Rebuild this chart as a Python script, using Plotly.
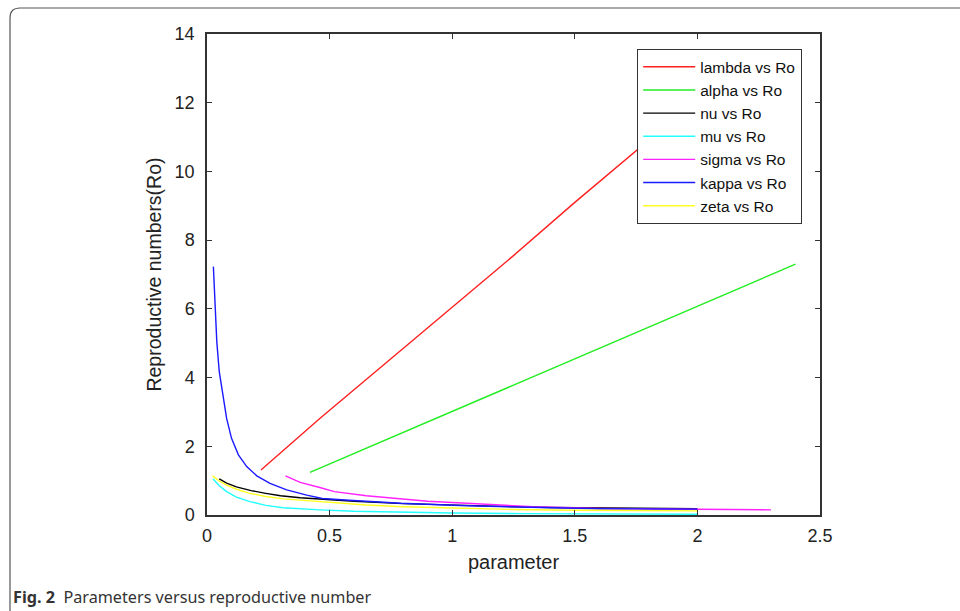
import plotly.graph_objects as go

# ---- data ----
lambda_x = [0.22, 0.46, 0.75, 1.0, 1.25, 1.5, 1.75, 2.0]
lambda_y = [1.31, 2.81, 4.55, 6.05, 7.55, 9.1, 10.6, 12.1]

alpha_x = [0.42, 0.75, 1.0, 1.2, 1.5, 2.0, 2.4]
alpha_y = [1.24, 2.25, 3.02, 3.64, 4.55, 6.08, 7.3]

nu_x = [0.05, 0.08, 0.12, 0.18, 0.24, 0.3, 0.38, 0.46, 0.6, 0.8, 1.0, 1.2, 1.4, 1.6, 1.8, 2.0]
nu_y = [1.05, 0.93, 0.82, 0.71, 0.63, 0.56, 0.5, 0.46, 0.40, 0.33, 0.28, 0.25, 0.22, 0.2, 0.19, 0.18]

mu_x = [0.025, 0.05, 0.08, 0.12, 0.175, 0.24, 0.31, 0.38, 0.46, 0.6, 0.8, 1.0, 1.3, 1.6, 2.0]
mu_y = [1.05, 0.85, 0.68, 0.52, 0.39, 0.28, 0.21, 0.18, 0.15, 0.11, 0.08, 0.06, 0.04, 0.03, 0.02]

sigma_x = [0.32, 0.38, 0.46, 0.52, 0.65, 0.79, 0.9, 1.06, 1.2, 1.33, 1.6, 2.0, 2.3]
sigma_y = [1.14, 0.95, 0.80, 0.68, 0.56, 0.46, 0.40, 0.34, 0.28, 0.24, 0.19, 0.17, 0.15]

kappa_x = [0.026, 0.030, 0.034, 0.040, 0.050, 0.064, 0.080, 0.100, 0.128, 0.162, 0.203, 0.257,
           0.325, 0.407, 0.47, 0.58, 0.79, 1.06, 1.4, 1.6, 2.0]
kappa_y = [7.23, 6.7, 5.9, 5.04, 4.17, 3.49, 2.81, 2.23, 1.75, 1.41, 1.14, 0.92,
           0.73, 0.58, 0.48, 0.43, 0.34, 0.27, 0.21, 0.18, 0.17]

zeta_x = [0.023, 0.05, 0.08, 0.12, 0.175, 0.24, 0.311, 0.38, 0.46, 0.65, 0.8, 1.0, 1.25, 1.5, 1.75, 2.0]
zeta_y = [1.14, 0.99, 0.87, 0.75, 0.63, 0.54, 0.47, 0.43, 0.39, 0.29, 0.24, 0.2, 0.16, 0.14, 0.13, 0.12]

series = [
    ("lambda vs Ro", lambda_x, lambda_y, "#ff2020"),
    ("alpha vs Ro", alpha_x, alpha_y, "#22ee22"),
    ("nu vs Ro", nu_x, nu_y, "#000000"),
    ("mu vs Ro", mu_x, mu_y, "#22ffff"),
    ("sigma vs Ro", sigma_x, sigma_y, "#ff22ff"),
    ("kappa vs Ro", kappa_x, kappa_y, "#1a1aff"),
    ("zeta vs Ro", zeta_x, zeta_y, "#ffff22"),
]

x_ticks = [0, 0.5, 1, 1.5, 2, 2.5]
x_tick_text = ["0", "0.5", "1", "1.5", "2", "2.5"]
y_ticks = [0, 2, 4, 6, 8, 10, 12, 14]

# ---- layout geometry (pixels) ----
W, H = 960, 611
L, R, T, B = 207, 140, 34, 96
PW, PH = W - L - R, H - T - B


def px(x):
    return (x - L) / PW


def py(y):
    return (H - B - y) / PH


FONT = "Liberation Sans, Arial"

fig = go.Figure()
for name, xs, ys, col in series:
    fig.add_trace(go.Scatter(x=xs, y=ys, mode="lines", name=name,
                             line=dict(color=col, width=1.4)))

axis_common = dict(showline=True, linecolor="#333333", linewidth=1.5, mirror="ticks",
                   ticks="inside", ticklen=5, tickcolor="#333333", tickwidth=1,
                   showgrid=False, zeroline=False,
                   tickfont=dict(family=FONT, size=18, color="#222222"))

fig.update_xaxes(range=[0, 2.5], tickvals=x_ticks, ticktext=x_tick_text,
                 ticklabelstandoff=4,
                 title=dict(text="parameter", standoff=10,
                            font=dict(family=FONT, size=20, color="#222222")),
                 **axis_common)
fig.update_yaxes(range=[0, 14], tickvals=y_ticks,
                 ticklabelstandoff=7,
                 title=dict(text="Reproductive numbers(Ro)", standoff=8,
                            font=dict(family=FONT, size=19.5, color="#222222")),
                 **axis_common)

# outer frame with rounded top-left corner
r = 10
x0, ytop, xr, ybot = 10, 8, 960, 611
path = (f"M {px(x0)},{py(ybot)} L {px(x0)},{py(ytop + r)} "
        f"Q {px(x0)},{py(ytop)} {px(x0 + r)},{py(ytop)} L {px(xr)},{py(ytop)}")
fig.add_shape(type="path", xref="paper", yref="paper", path=path,
              line=dict(color="#555555", width=1.2))

fig.add_annotation(xref="paper", yref="paper", x=px(11), y=py(597),
                   xanchor="left", yanchor="middle", showarrow=False,
                   text="<b>Fig. 2</b>  Parameters versus reproductive number",
                   font=dict(family="Noto Sans", size=16.2, color="#333333"))

fig.update_layout(
    width=W, height=H,
    margin=dict(l=L, r=R, t=T, b=B),
    paper_bgcolor="white", plot_bgcolor="white",
    showlegend=True,
    legend=dict(x=px(802), y=py(49), xanchor="right", yanchor="top",
                bgcolor="white", bordercolor="#333333", borderwidth=1.2,
                font=dict(family=FONT, size=15.5, color="#111111"),
                itemwidth=52, tracegroupgap=0),
)

fig.write_html("out.html")
